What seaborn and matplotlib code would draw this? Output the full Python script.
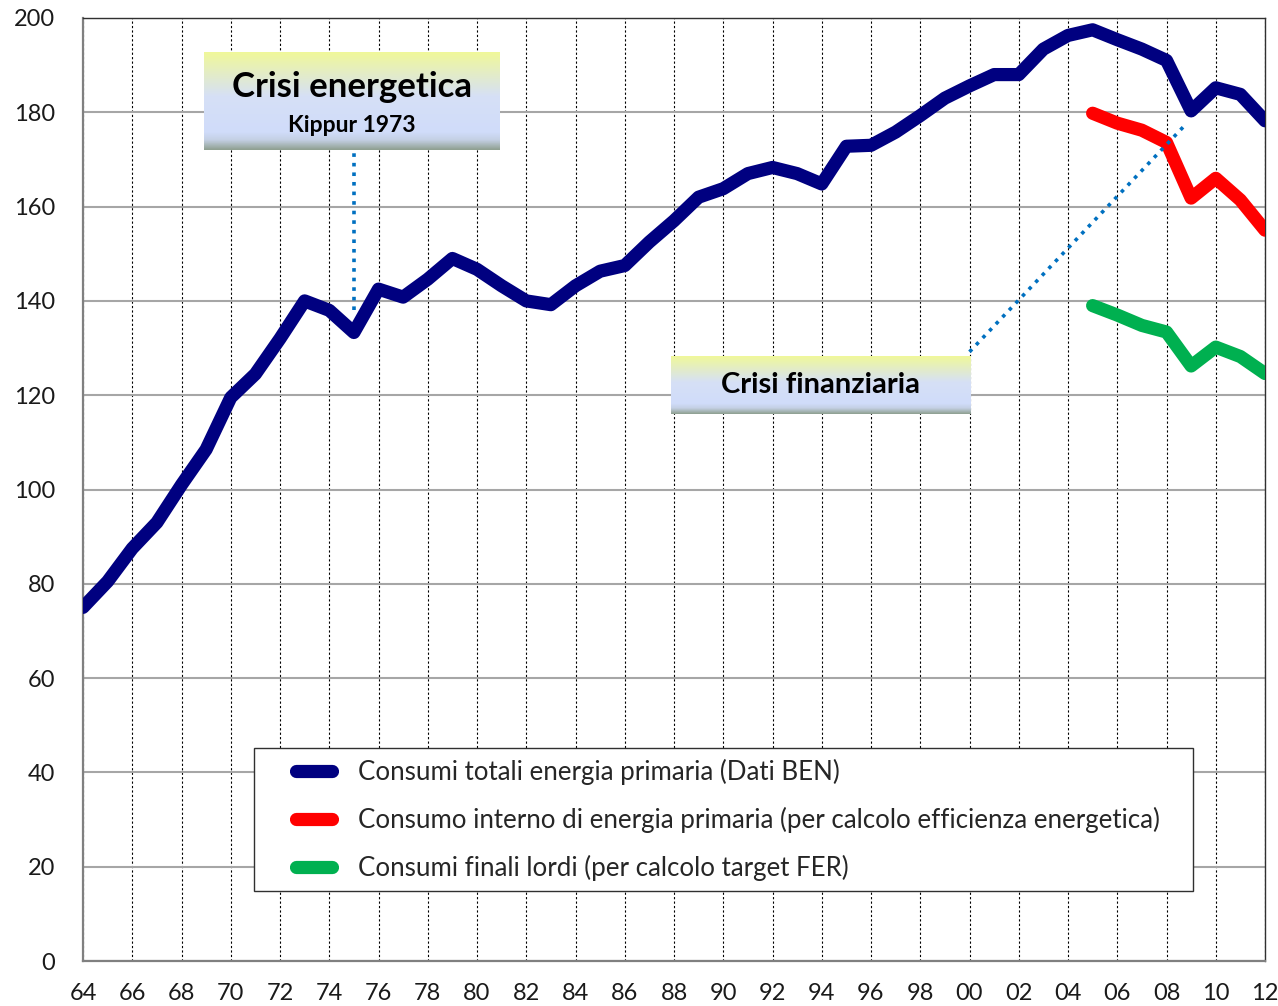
import numpy as np
import pandas as pd
import seaborn as sns
import matplotlib.pyplot as plt
from matplotlib.colors import LinearSegmentedColormap
from matplotlib.lines import Line2D
from matplotlib.legend_handler import HandlerLine2D

years = list(range(1964, 2013))
totali = [75, 80.5, 87.5, 93, 101, 108.5, 119.5, 124.5, 132, 140,
          138, 133.3, 142.5, 140.8, 144.6, 149, 146.7, 143.2, 140, 139.2,
          143.2, 146.3, 147.5, 152.5, 157, 162, 163.8, 167, 168.3, 167,
          164.8, 172.8, 173, 175.8, 179.3, 183, 185.6, 188, 188, 193.4,
          196.3, 197.5, 195.4, 193.4, 191, 180.3, 185.2, 183.8, 178.2]
years_new = list(range(2005, 2013))
interno = [179.8, 177.7, 176.2, 173.6, 161.8, 166, 161.4, 155]
finali = [139, 137, 134.8, 133.4, 126.2, 130.2, 128.2, 124.6]

labels = ["Consumi totali energia primaria (Dati BEN)",
          "Consumo interno di energia primaria (per calcolo efficienza energetica)",
          "Consumi finali lordi (per calcolo target FER)"]
colors = ["#000080", "#ff0000", "#00b050"]
xtick_years = years[::2]
xtick_labels = [f"{y % 100:02d}" for y in xtick_years]

df = pd.concat([
    pd.DataFrame({"anno": years, "valore": totali, "serie": labels[0]}),
    pd.DataFrame({"anno": years_new, "valore": interno, "serie": labels[1]}),
    pd.DataFrame({"anno": years_new, "valore": finali, "serie": labels[2]}),
])

sns.set_theme(style="white")
plt.rcParams['font.family'] = ['Lato', 'DejaVu Sans']

fig = plt.figure(figsize=(12.78, 10.06), dpi=100)
ax = fig.add_axes([83/1278, 1 - 961/1006, (1265-83)/1278, (961-18)/1006])

sns.lineplot(data=df, x="anno", y="valore", hue="serie", palette=dict(zip(labels, colors)),
             linewidth=9.5, ax=ax, legend=False, solid_capstyle="round", solid_joinstyle="round",
             zorder=5)

ax.set_xlim(1964, 2012)
ax.set_ylim(0, 200)
ax.set_xticks(xtick_years)
ax.set_xticklabels(xtick_labels)
ax.set_yticks(range(0, 201, 20))
ax.set_xlabel("")
ax.set_ylabel("")
ax.tick_params(axis="both", labelsize=17, labelcolor="#1a1a1a", direction="out")
ax.tick_params(axis="y", length=8, width=1.2, pad=12, color="#606060")
ax.tick_params(axis="x", length=6, width=1.2, pad=10, color="#606060")

ax.grid(False)
ax.yaxis.grid(True, color="#a6a6a6", lw=1.5)
ax.xaxis.grid(True, color="black", lw=0.8, ls=(0, (2, 2)))
for s in ["left", "bottom"]:
    ax.spines[s].set_color("#808080")
    ax.spines[s].set_linewidth(1.6)
for s in ["top", "right"]:
    ax.spines[s].set_color("#303030")
    ax.spines[s].set_linewidth(1.0)

# linee tratteggiate delle didascalie
ax.plot([1975, 1975], [138, 172], color="#0070c0", lw=2.6, ls=":", dash_capstyle="butt", zorder=4)
ax.plot([2000, 2008.7], [129.2, 177], color="#0070c0", lw=2.6, ls=":", dash_capstyle="butt", zorder=6)

grad = LinearSegmentedColormap.from_list("box", [
    (0.0, "#f0f89a"), (0.45, "#d6e0f6"), (0.82, "#d0dcfa"), (0.9, "#c4d0e4"), (1.0, "#8fa091")])
g = np.linspace(0, 1, 200).reshape(-1, 1)


def box(rect, lines):
    bx = fig.add_axes(rect)
    bx.imshow(g, cmap=grad, aspect="auto", extent=(0, 1, 0, 1))
    bx.set_xticks([])
    bx.set_yticks([])
    for sp in bx.spines.values():
        sp.set_visible(False)
    for (ty, txt, fs) in lines:
        bx.text(0.5, ty, txt, ha="center", va="center", fontsize=fs, fontweight="bold",
                color="black", transform=bx.transAxes)
    return bx


box([204/1278, 1 - 150/1006, 296/1278, 98/1006],
    [(0.64, "Crisi energetica", 25), (0.25, "Kippur 1973", 16.5)])
box([671/1278, 1 - 414/1006, 299/1278, 58/1006],
    [(0.5, "Crisi finanziaria", 21)])


class ShortLine(HandlerLine2D):
    def get_xdata(self, legend, xdescent, ydescent, width, height, fontsize):
        x = np.array([-xdescent + 0.47 * width, -xdescent + width])
        return x, x


handles = [Line2D([], [], color=c, lw=9.5, solid_capstyle="round") for c in colors]
leg = ax.legend(handles, labels, loc="upper left",
                bbox_to_anchor=(254/1278, 1 - 892/1006, 939/1278, 144/1006), mode="expand",
                bbox_transform=fig.transFigure, fontsize=18.6, frameon=True, fancybox=False,
                edgecolor="#303030", framealpha=1, borderpad=0.42, labelspacing=0.84,
                handlelength=2.6, handletextpad=1.0, borderaxespad=0,
                handler_map={Line2D: ShortLine()})
leg.get_frame().set_linewidth(1.0)
leg.set_zorder(10)

fig.savefig("out.png", dpi=100)
